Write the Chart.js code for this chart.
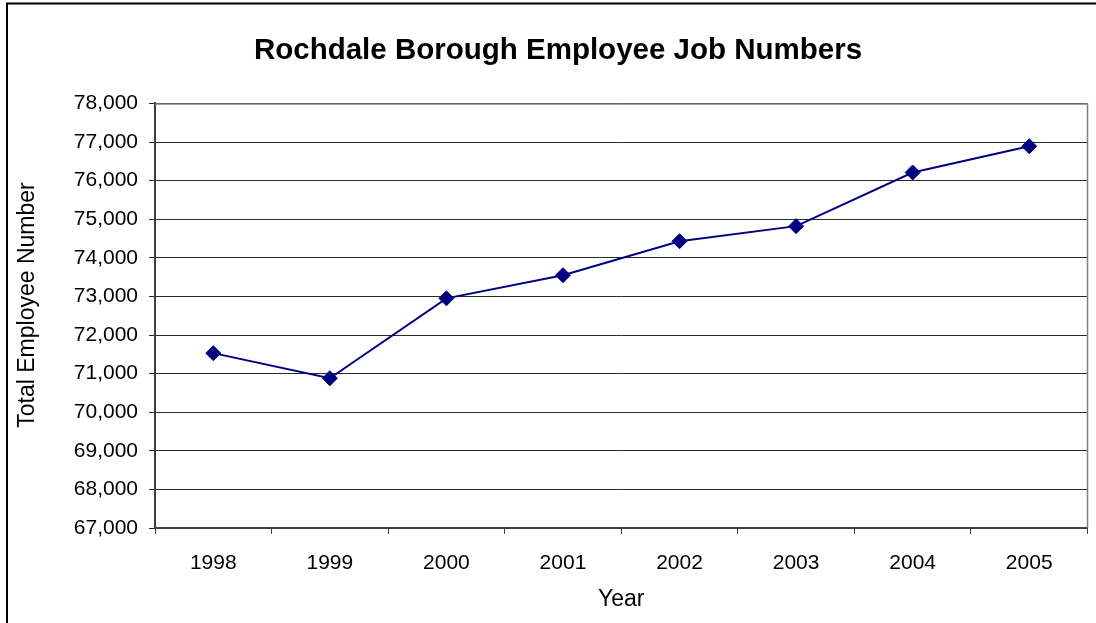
<!DOCTYPE html>
<html lang="en">
<head>
  <meta charset="UTF-8">
  <title>Rochdale Borough Employee Job Numbers</title>
  <style>
    body {
      margin: 0;
      padding: 0;
      background-color: #fff;
    }

    .chart-box {
      width: 1096px;
      height: 623px;
    }
  </style>
</head>
<body>
  <div class="chart-box">
    <canvas id="jobs-chart"></canvas>
  </div>

  <script src="https://cdn.jsdelivr.net/npm/chart.js"></script>
  <script>
    // Employee jobs per year
    const years = ['1998', '1999', '2000', '2001', '2002', '2003', '2004', '2005'];
    const jobCounts = [71530, 70880, 72950, 73550, 74430, 74820, 76210, 76890];

    // Value axis range
    const yMin = 67000;
    const yMax = 78000;
    const yStep = 1000;

    const FONT = 'Liberation Sans, Arial, sans-serif';

    // Frame round the whole chart, plot area edges and the rotated y title
    const framePlugin = {
      id: 'frame',
      afterDraw(chart) {
        const { ctx, chartArea } = chart;
        ctx.save();

        ctx.strokeStyle = '#000';
        ctx.lineWidth = 2;
        ctx.strokeRect(7, 3.5, 2000, 2000);

        ctx.strokeStyle = '#808080';
        ctx.lineWidth = 1.5;
        ctx.beginPath();
        ctx.moveTo(chartArea.left, chartArea.top + 0.5);
        ctx.lineTo(chartArea.right, chartArea.top + 0.5);
        ctx.lineTo(chartArea.right, chartArea.bottom);
        ctx.stroke();

        ctx.fillStyle = '#000';
        ctx.font = '23px ' + FONT;
        ctx.textAlign = 'center';
        ctx.textBaseline = 'middle';
        ctx.translate(28, 305);
        ctx.rotate(-Math.PI / 2);
        ctx.fillText('Total Employee Number', 0, 0);
        ctx.restore();
      }
    };

    const ctx = document.getElementById('jobs-chart').getContext('2d');
    const jobsChart = new Chart(ctx, {
      type: 'line',
      data: {
        labels: years,
        datasets: [{
          label: 'Total Employee Number',
          data: jobCounts,
          borderColor: '#000080',
          backgroundColor: '#000080',
          borderWidth: 2,
          pointStyle: 'rectRot',
          pointRadius: 7.5,
          pointBorderWidth: 1,
          tension: 0
        }]
      },
      options: {
        responsive: true,
        maintainAspectRatio: false,
        animation: false,
        layout: {
          padding: { left: 27, right: 7, top: 0, bottom: 0 }
        },
        plugins: {
          legend: { display: false },
          tooltip: { enabled: false },
          title: {
            display: true,
            text: 'Rochdale Borough Employee Job Numbers',
            color: '#000',
            font: { family: FONT, size: 29.5, weight: 'bold' },
            padding: { top: 33, bottom: 35 }
          }
        },
        scales: {
          x: {
            offset: true,
            afterFit(scale) { scale.height = 95; },
            grid: {
              offset: true,
              drawOnChartArea: false,
              drawTicks: true,
              tickLength: 6,
              color: '#404040'
            },
            border: { color: '#404040', width: 2 },
            ticks: {
              color: '#000',
              padding: 17,
              font: { family: FONT, size: 21 }
            },
            title: {
              display: true,
              text: 'Year',
              color: '#000',
              font: { family: FONT, size: 23 },
              padding: { top: 0, bottom: 10 }
            }
          },
          y: {
            min: yMin,
            max: yMax,
            afterFit(scale) { scale.width = 128; },
            ticks: {
              stepSize: yStep,
              color: '#000',
              padding: 11,
              font: { family: FONT, size: 21 },
              callback: v => v.toLocaleString('en-US')
            },
            grid: {
              color: '#2a2a2a',
              tickLength: 6,
              lineWidth: 1
            },
            border: { color: '#404040', width: 2 }
          }
        }
      },
      plugins: [framePlugin]
    });
  </script>
</body>
</html>
